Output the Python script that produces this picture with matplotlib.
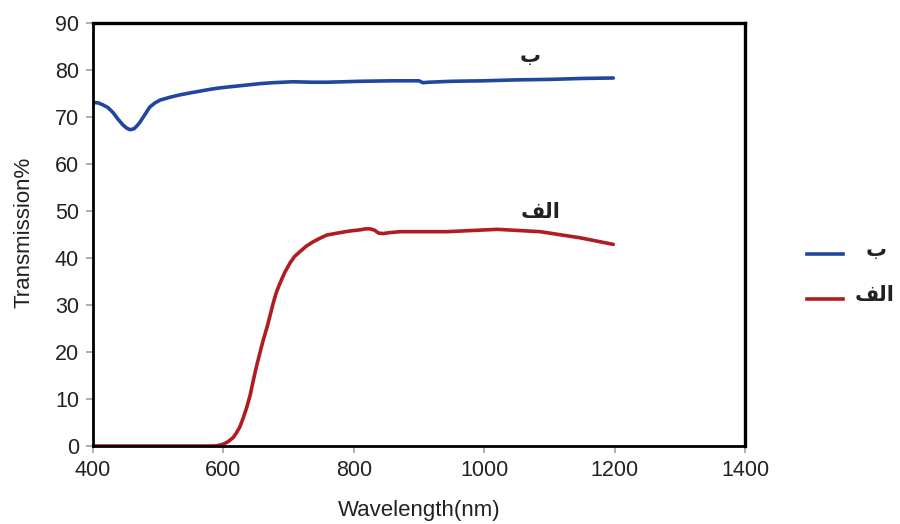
import matplotlib
matplotlib.use("Agg")
import matplotlib.pyplot as plt

# Series "ب" (blue)
wl_b = [400, 408, 415, 423, 431, 438, 446, 452, 457, 463, 468, 472, 480, 487,
        495, 503, 518, 533, 548, 564, 580, 595, 615, 636, 656, 676, 707,
        735, 759, 785, 810, 860, 900, 906, 915, 950, 998, 1050, 1100, 1150, 1198]
tr_b = [73.1, 73.0, 72.6, 72.0, 70.9, 69.6, 68.3, 67.6, 67.3, 67.5, 68.2, 68.9,
        70.6, 72.1, 73.0, 73.6, 74.2, 74.7, 75.1, 75.5, 75.9, 76.2, 76.5, 76.8,
        77.1, 77.3, 77.5, 77.4, 77.4, 77.5, 77.6, 77.7, 77.7, 77.3, 77.4, 77.6,
        77.7, 77.9, 78.0, 78.2, 78.3]

# Series "الف" (red)
wl_a = [400, 500, 580, 590, 600, 607, 615, 620, 625, 630, 636, 641, 645, 650,
        656, 661, 667, 672, 676, 681, 687, 694, 702, 709, 717, 727, 737, 748,
        759, 771, 783, 797, 810, 818, 825, 832, 838, 845, 855, 871, 943, 1020,
        1086, 1147, 1198]
tr_a = [0.0, 0.0, 0.0, 0.05, 0.4, 0.9, 1.8, 2.8, 4.0, 5.8, 8.3, 10.8, 13.4,
        16.5, 19.8, 22.5, 25.3, 28.0, 30.2, 32.6, 34.7, 36.9, 38.9, 40.3, 41.3,
        42.5, 43.4, 44.2, 44.9, 45.2, 45.5, 45.8, 46.0, 46.2, 46.2, 45.9, 45.3,
        45.2, 45.4, 45.6, 45.6, 46.1, 45.6, 44.3, 42.9]

x_ticks = [400, 600, 800, 1000, 1200, 1400]
y_ticks = list(range(0, 91, 10))

# visual-order (pre-shaped) Arabic labels
lab_b = "\u0628"
lab_a = "\uFED2\uFEDF\u0627"  # الف

blue = "#2046a0"
red = "#b01c22"

plt.rcParams['font.family'] = ['Liberation Sans', 'DejaVu Sans']

fig = plt.figure(figsize=(9, 5.24), dpi=100)
ax = fig.add_axes([93/900, 78/524, (745-93)/900, (446-23)/524])

ax.plot(wl_b, tr_b, color=blue, lw=2.6, solid_capstyle='round',
        solid_joinstyle='round')
ax.plot(wl_a, tr_a, color=red, lw=2.6, solid_capstyle='round',
        solid_joinstyle='round')

ax.set_xlim(400, 1400)
ax.set_ylim(0, 90)
ax.set_xticks(x_ticks)
ax.set_yticks(y_ticks)
ax.tick_params(axis='both', direction='out', length=5, width=1.2,
               color='#a0a0a0', labelsize=15.5, labelcolor='#222222', pad=5)
for s in ax.spines.values():
    s.set_color('black')
    s.set_linewidth(2.4)
ax.spines['left'].set_linewidth(2.0)
ax.spines['bottom'].set_linewidth(2.0)

ax.set_xlabel('Wavelength(nm)', fontsize=16, color='#222222', labelpad=14)
ax.set_ylabel('Transmission%', fontsize=16, color='#222222')
ax.yaxis.set_label_coords(-0.09, 0.505)

# in-plot labels
ax.text(1070, 83.0, lab_b, family='DejaVu Sans', fontweight='bold',
        fontsize=15, ha='center', va='center', color='#222222')
ax.text(1086, 49.8, lab_a, family='DejaVu Sans', fontweight='bold',
        fontsize=15, ha='center', va='center', color='#222222')

# legend drawn manually in figure coords
for yy, col, lab, lx in [(254, blue, lab_b, 866), (299, red, lab_a, 855)]:
    fig.add_artist(plt.Line2D([807/900, 843/900], [1 - yy/524, 1 - yy/524],
                              color=col, lw=2.6, transform=fig.transFigure))
    fig.text(lx/900, 1 - (yy - 4)/524, lab, family='DejaVu Sans',
             fontweight='bold', fontsize=15, ha='left', va='center',
             color='#222222')

fig.savefig('out.png', dpi=100)
